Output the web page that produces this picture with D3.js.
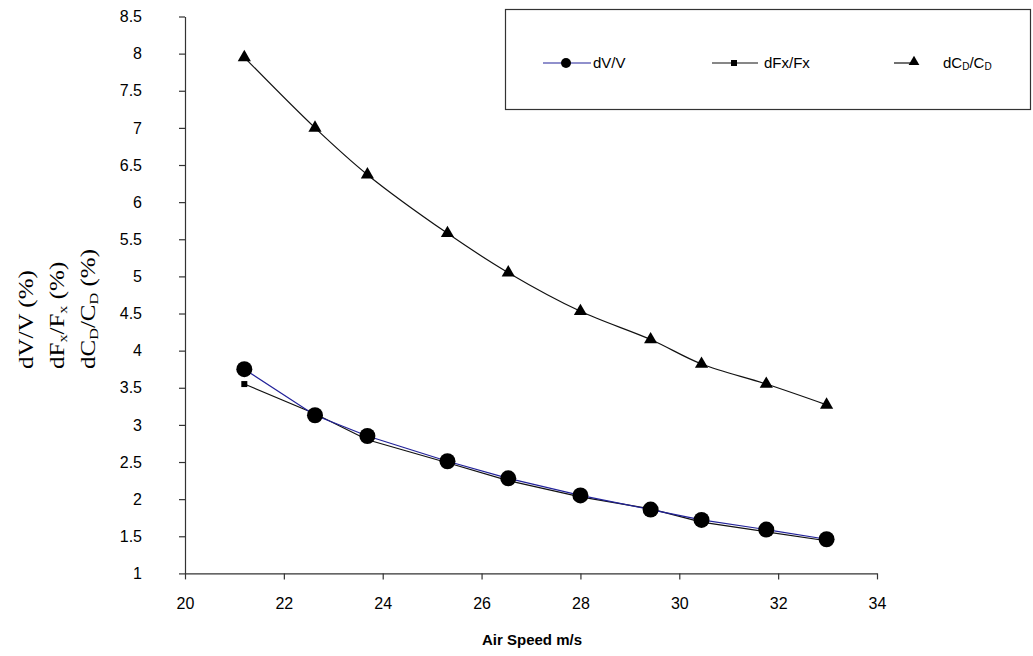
<!DOCTYPE html>
<html>
<head>
<meta charset="utf-8">
<script src="https://cdn.jsdelivr.net/npm/d3@7"></script>
<style>
  html, body { margin: 0; padding: 0; background: #fff; }
  svg { display: block; }
</style>
</head>
<body>
<svg id="chart" width="1033" height="656"></svg>
<script>
// ---- data ----
const airSpeed = [21.2, 22.63, 23.69, 25.31, 26.54, 28.0, 29.42, 30.45, 31.76, 32.98];
const dV_V     = [3.75, 3.13, 2.85, 2.51, 2.28, 2.05, 1.86, 1.72, 1.59, 1.46];
const dFx_Fx   = [3.55, 3.15, 2.80, 2.49, 2.25, 2.03, 1.87, 1.69, 1.56, 1.44];
const dCD_CD   = [7.95, 7.00, 6.37, 5.58, 5.05, 4.53, 4.15, 3.82, 3.55, 3.27];
const xTicks   = [20, 22, 24, 26, 28, 30, 32, 34];
const yTicks   = [1, 1.5, 2, 2.5, 3, 3.5, 4, 4.5, 5, 5.5, 6, 6.5, 7, 7.5, 8, 8.5];

const svg = d3.select("#chart");
const x = d3.scaleLinear().domain([20, 34]).range([185, 877]);
const y = d3.scaleLinear().domain([1, 8.5]).range([573.4, 16.5]);

const axisColor = "#333";
const sans = "Arial, 'Liberation Sans', sans-serif";
const serif = "'Times New Roman', 'Liberation Serif', serif";

// axes
const xAxis = svg.append("g").attr("transform", `translate(0,${y(1)})`)
  .call(d3.axisBottom(x).tickValues(xTicks).tickSize(6).tickSizeOuter(0).tickPadding(18).tickFormat(d3.format("d")));
const yAxis = svg.append("g").attr("transform", `translate(${x(20)},0)`)
  .call(d3.axisLeft(y).tickValues(yTicks).tickSize(6).tickSizeOuter(0).tickPadding(40).tickFormat(d3.format("~g")));
[xAxis, yAxis].forEach(g => {
  g.select(".domain").attr("stroke", axisColor).attr("stroke-width", 1.2);
  g.selectAll(".tick line").attr("stroke", axisColor).attr("stroke-width", 1.2);
  g.selectAll(".tick text").attr("fill", "#000").style("font-family", sans).style("font-size", "16px");
});
yAxis.selectAll(".tick text").attr("text-anchor", "end").attr("dx", "0").attr("x", -43);

// axis title
svg.append("text").attr("x", 532).attr("y", 645).attr("text-anchor", "middle")
  .style("font-family", sans).style("font-size", "15px").style("font-weight", "bold")
  .text("Air Speed m/s");

// y title (three rotated lines)
const yl = [
  {b: 33, parts: [["dV/V (%)", null]]},
  {b: 64, parts: [["dF", null], ["x", "sub"], ["/F", null], ["x", "sub"], [" (%)", null]]},
  {b: 95, parts: [["dC", null], ["D", "sub"], ["/C", null], ["D", "sub"], [" (%)", null]]}
];
yl.forEach(l => {
  const t = svg.append("text")
    .attr("transform", `translate(${l.b},369) rotate(-90) scale(1.25,1)`)
    .style("font-family", serif).style("font-size", "20px").attr("fill", "#000");
  l.parts.forEach(p => {
    const ts = t.append("tspan").text(p[0]);
    if (p[1] === "sub") ts.attr("baseline-shift", "-22%").style("font-size", "13px");
  });
});

// series
const pts = arr => arr.map((v, i) => [airSpeed[i], v]);
const lineLin = d3.line().x(d => x(d[0])).y(d => y(d[1]));
const lineSmooth = d3.line().x(d => x(d[0])).y(d => y(d[1])).curve(d3.curveCatmullRom.alpha(0.5));

svg.append("path").datum(pts(dCD_CD)).attr("d", lineSmooth)
  .attr("fill", "none").attr("stroke", "#111").attr("stroke-width", 1.2);
svg.append("path").datum(pts(dFx_Fx)).attr("d", lineLin)
  .attr("fill", "none").attr("stroke", "#111").attr("stroke-width", 1.2);
svg.append("path").datum(pts(dV_V)).attr("d", lineLin)
  .attr("fill", "none").attr("stroke", "#22229a").attr("stroke-width", 1.2);

const tri = d3.symbol().type(d3.symbolTriangle).size(75);
svg.append("g").selectAll("path").data(pts(dCD_CD)).join("path")
  .attr("transform", d => `translate(${x(d[0])},${y(d[1])})`).attr("d", tri).attr("fill", "#000");
svg.append("g").selectAll("rect").data(pts(dFx_Fx)).join("rect")
  .attr("x", d => x(d[0]) - 3).attr("y", d => y(d[1]) - 3).attr("width", 6).attr("height", 6).attr("fill", "#000");
svg.append("g").selectAll("circle").data(pts(dV_V)).join("circle")
  .attr("cx", d => x(d[0])).attr("cy", d => y(d[1])).attr("r", 8).attr("fill", "#000");

// legend
const lg = svg.append("g");
lg.append("rect").attr("x", 505.5).attr("y", 9.5).attr("width", 525).attr("height", 100)
  .attr("fill", "#fff").attr("stroke", axisColor).attr("stroke-width", 1.2);
const ly = 63;
lg.append("line").attr("x1", 543).attr("x2", 591).attr("y1", ly).attr("y2", ly).attr("stroke", "#22229a").attr("stroke-width", 1.2);
lg.append("circle").attr("cx", 566).attr("cy", ly).attr("r", 5).attr("fill", "#000");
lg.append("line").attr("x1", 712).attr("x2", 758).attr("y1", ly).attr("y2", ly).attr("stroke", "#111").attr("stroke-width", 1.2);
lg.append("rect").attr("x", 731).attr("y", ly - 3).attr("width", 6).attr("height", 6).attr("fill", "#000");
lg.append("line").attr("x1", 894).attr("x2", 917).attr("y1", ly).attr("y2", ly).attr("stroke", "#111").attr("stroke-width", 1.2);
lg.append("path").attr("transform", `translate(914,${ly - 1})`).attr("d", d3.symbol().type(d3.symbolTriangle).size(50)).attr("fill", "#000");

const legTxt = (xx, parts) => {
  const t = lg.append("text").attr("x", xx).attr("y", ly + 5)
    .style("font-family", sans).style("font-size", "15px").attr("fill", "#000");
  parts.forEach(p => {
    const ts = t.append("tspan").text(p[0]);
    if (p[1] === "sub") ts.attr("baseline-shift", "-20%").style("font-size", "10px");
  });
};
legTxt(593, [["dV/V", null]]);
legTxt(764, [["dFx/Fx", null]]);
legTxt(943, [["dC", null], ["D", "sub"], ["/C", null], ["D", "sub"]]);
</script>
</body>
</html>
